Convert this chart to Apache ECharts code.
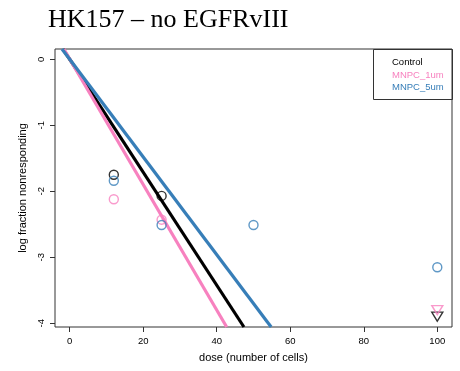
<!DOCTYPE html>
<html>
<head>
<meta charset="utf-8">
<script src="https://cdn.jsdelivr.net/npm/echarts@6/dist/echarts.min.js"></script>
<style>html,body{margin:0;padding:0;background:#fff}#c{width:460px;height:371px}</style>
</head>
<body>
<div id="c"></div>
<script>
// ---- data ----
const seriesNames = ['Control', 'MNPC_1um', 'MNPC_5um'];
const seriesColors = ['#000000', '#F781BF', '#377EB8'];
// observed points [dose, log fraction nonresponding]
const controlPts = [[12, -1.75], [25, -2.07]];
const mnpc1Pts = [[12, -2.12], [25, -2.43]];
const mnpc5Pts = [[12, -1.84], [25, -2.51], [50, -2.51], [100, -3.15]];
// censored points (drawn as down triangles)
const controlCens = [[100, -3.9]];
const mnpc1Cens = [[100, -3.8]];
const mnpc5Cens = [];
// fitted lines: endpoints at plot edges
const controlFit = [[-1.8, 0.155], [47.4, -4.056]];
const mnpc1Fit = [[-1.6, 0.155], [42.7, -4.056]];
const mnpc5Fit = [[-2.1, 0.155], [54.8, -4.056]];
// axis ticks
const xTicks = [0, 20, 40, 60, 80, 100];
const yTicks = [-4, -3, -2, -1, 0];

const pts = [controlPts, mnpc1Pts, mnpc5Pts];
const cens = [controlCens, mnpc1Cens, mnpc5Cens];
const fits = [controlFit, mnpc1Fit, mnpc5Fit];

const series = [];
[0, 1, 2].forEach(i => {
  series.push({
    name: seriesNames[i], type: 'line', data: fits[i], showSymbol: false, symbol: 'none',
    lineStyle: { color: seriesColors[i], width: 3.2 }, clip: true, z: 2 + i, silent: true
  });
});
[0, 1, 2].forEach(i => {
  series.push({
    name: seriesNames[i], type: 'scatter', data: pts[i], symbol: 'circle', symbolSize: 9,
    itemStyle: { color: 'none', borderColor: seriesColors[i], borderWidth: 1.4 }, z: 6
  });
  series.push({
    name: seriesNames[i], type: 'scatter', data: cens[i], symbol: 'triangle', symbolSize: [11, 9],
    symbolRotate: 180,
    itemStyle: { color: 'none', borderColor: seriesColors[i], borderWidth: 1.4 }, z: 6
  });
});

const chart = echarts.init(document.getElementById('c'), null, { renderer: 'canvas' });
chart.setOption({
  animation: false,
  backgroundColor: '#fff',
  title: {
    text: 'HK157 – no EGFRvIII', left: 43, top: 2,
    textStyle: { fontFamily: 'Liberation Serif', fontSize: 26, fontWeight: 'normal', color: '#000' }
  },
  grid: { left: 55, right: 8, top: 49, bottom: 44, show: true, borderColor: '#333', borderWidth: 1, backgroundColor: 'transparent' },
  legend: {
    data: seriesNames.map((n, i) => ({ name: n, icon: 'none', textStyle: { color: seriesColors[i] } })),
    orient: 'vertical', left: 373, top: 49, padding: [8.5, 0, 0, 0], itemWidth: 14, itemHeight: 10, itemGap: 2.3,
    selectedMode: false,
    textStyle: { fontFamily: 'Liberation Sans', fontSize: 9.5, lineHeight: 10.2, padding: [0, 0, 0, 0] }
  },
  graphic: [{
    type: 'rect', shape: { x: 373.5, y: 49.5, width: 79, height: 50 },
    style: { fill: 'none', stroke: '#333', lineWidth: 1 }, z: 100
  }],
  xAxis: {
    type: 'value', min: -4, max: 104,
    name: 'dose (number of cells)', nameLocation: 'middle', nameGap: 25,
    nameTextStyle: { fontFamily: 'Liberation Sans', fontSize: 11, color: '#000' },
    axisLine: { show: false, onZero: false },
    axisTick: { show: true, length: 5, inside: false, customValues: xTicks, lineStyle: { color: '#333' } },
    axisLabel: { customValues: xTicks, margin: 9, fontFamily: 'Liberation Sans', fontSize: 9.5, color: '#000' },
    splitLine: { show: false }
  },
  yAxis: {
    type: 'value', min: -4.056, max: 0.156,
    name: 'log fraction nonresponding', nameLocation: 'middle', nameGap: 27, nameRotate: 90,
    nameTextStyle: { fontFamily: 'Liberation Sans', fontSize: 11, color: '#000' },
    axisLine: { show: false, onZero: false },
    axisTick: { show: true, length: 5, inside: false, customValues: yTicks, lineStyle: { color: '#333' } },
    axisLabel: { customValues: yTicks, rotate: 90, margin: 9, fontFamily: 'Liberation Sans', fontSize: 9.5, color: '#000' },
    splitLine: { show: false }
  },
  series: series
});
</script>
</body>
</html>
